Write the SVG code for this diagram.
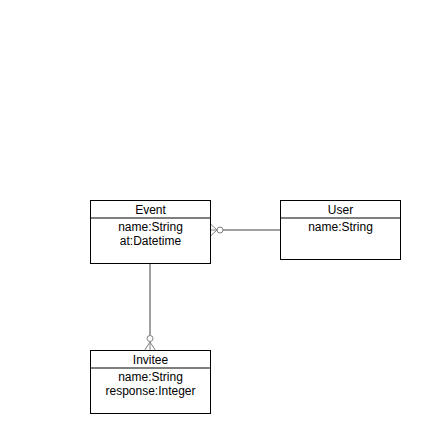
<svg xmlns="http://www.w3.org/2000/svg" width="422" height="434" viewBox="0 0 422 434">
<style>
.box{fill:#fff;stroke:#000;stroke-width:1}
.t{font-family:"Liberation Sans",Arial,sans-serif;font-size:12px;fill:#000;text-anchor:middle}
.c{fill:none;stroke:#808080;stroke-width:1.5}
.cf{fill:#fff;stroke:#808080;stroke-width:1}
</style>
<rect width="422" height="434" fill="#fff"/>
<g id="connectors">
<line class="c" x1="220" y1="230" x2="280" y2="230"/>
<path class="cf" d="M210.5,224 L217,230 L210.5,236 M210.5,230 L217,230"/>
<circle class="cf" cx="220" cy="230" r="3"/>
<line class="c" x1="150" y1="264" x2="150" y2="335"/>
<path class="cf" d="M144.5,350.5 L150,342 L155.5,350.5 M150,342 L150,350.5"/>
<circle class="cf" cx="150" cy="338.5" r="3"/>
</g>
<g id="event">
<rect class="box" x="90.5" y="200.5" width="120" height="63"/>
<line class="box" x1="90.5" y1="218" x2="210.5" y2="218"/>
<text class="t" x="150.5" y="214">Event</text>
<text class="t" x="150.5" y="231">name:String</text>
<text class="t" x="150.5" y="244.5">at:Datetime</text>
</g>
<g id="user">
<rect class="box" x="280.5" y="200.5" width="120" height="59"/>
<line class="box" x1="280.5" y1="218" x2="400.5" y2="218"/>
<text class="t" x="340.5" y="214">User</text>
<text class="t" x="340.5" y="231">name:String</text>
</g>
<g id="invitee">
<rect class="box" x="90.5" y="350.5" width="120" height="63"/>
<line class="box" x1="90.5" y1="368" x2="210.5" y2="368"/>
<text class="t" x="150.5" y="364">Invitee</text>
<text class="t" x="150.5" y="381">name:String</text>
<text class="t" x="150.5" y="394.5">response:Integer</text>
</g>
</svg>
